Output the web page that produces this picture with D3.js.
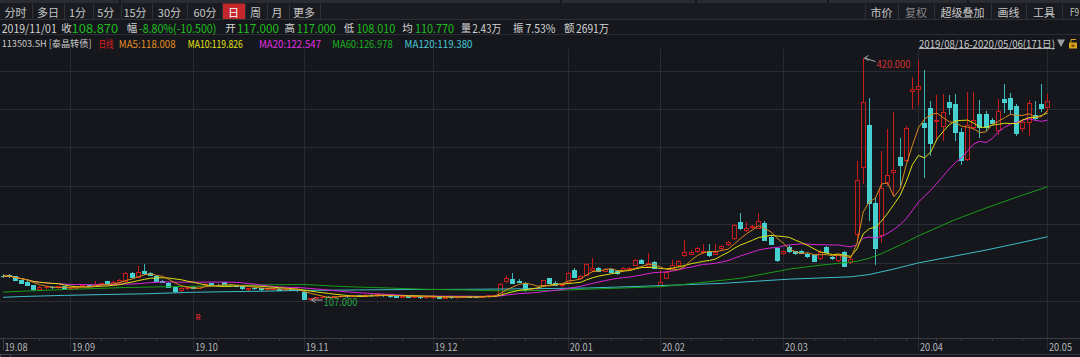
<!DOCTYPE html>
<html>
<head>
<meta charset="utf-8">
<script src="https://cdn.jsdelivr.net/npm/d3@7/dist/d3.min.js"></script>
<style>
html,body{margin:0;padding:0;background:#15171c;overflow:hidden;}
svg{display:block;}
text{font-family:'Noto Sans CJK SC','Noto Sans',sans-serif;}
</style>
</head>
<body>
<svg id="chart" width="1080" height="357"></svg>
<script>
// ---------------- DATA ----------------
const opens=[138.5,139,137.5,132.5,130,126,121,123.5,124,123.2,
125,121.5,123,125,126.5,125.5,127.5,131.5,128,130,
131,142.5,137,145,142,138,132,129.5,124.2,119.5,
122.5,123.5,123,126,128.5,127,130,127,126,125.5,
121,122.5,122,121,121.5,121.5,120.5,121,120.3,117,
108.5,110,111,111.5,111,112,112.5,112.2,113,112.5,
114,113,114,113,112,111.5,111.8,111.2,111.5,110.6,
110.8,111.8,110,111,110.5,111.2,111.8,111.5,111,112,
113.2,113.5,131.5,134.5,131.5,129.5,121,122,126.5,135.5,
129.5,126.5,130.5,146,135,139.5,146,148,145,146.5,
144.5,145.5,147,152.5,158.7,151,156.5,127,136,148.5,
152,165.5,167,170.5,169,171,166.5,174,179,187,
208,197.5,202,200.5,206,189,174.6,167.4,176,170,
171,167,165,160.8,175,162,158.2,169,156.5,192,
279,333,232.8,191,260,272,292,288,377,380.5,
335.5,355,338,332,363,361,324.6,290,331,348,
348,340,327,366.7,368.7,357.8,329,337,346,360.5,356];
const highs=[140,141,138.5,133.5,131,126.5,124.5,125,124.8,125,
125.5,123.5,125.5,126.5,127,131,129,132,132,134,
143,143.5,151,153,143,139,133,130,125,123.5,
124,124.5,125,128.5,129,127.8,130.5,127.5,126.5,126,
123,123.5,122.5,122,122.5,122,121.5,121.5,120.8,117,
110.2,111.5,112,112.5,112,113,113.5,113.5,114,114.5,
114.8,115,114.5,113.5,112.8,112.5,112.3,112,112,111.5,
114,112.2,111.5,112,111.5,112,112.5,112.5,112.5,113.8,
114,128.5,138,142,134,130,123,124,133.5,136,
131,128,143,148,139,155,161.5,150,148,147.5,
145.5,150,149.5,160,160,168,157.5,145.5,144.5,158.7,
158.5,184.6,172,176,180,179.5,179.5,178,183,205,
219,208,203.5,220,209,191,176,172,178,171,
172,168,165.5,172,177,163.5,167,170,161.5,287,
420,368,240,300,328,350,316.5,332,395,417,
404,365,372,374,372,374,330,376,376,366,
352,343,367,387,375,360,338,366,364,387,374];
const lows=[136.5,137,132.5,129,126,120.5,120.5,122.5,122.8,122.5,
121,121,122.5,124.5,124.8,125,126.5,127.5,127.5,129.5,
130.5,136.5,136.5,141,139,131.5,130,124,117.8,118,
121.5,122,122.5,125.5,126.5,126,126.5,125.5,124.5,121.5,
118,121.5,120.5,120.5,121,120,120,119.8,119,108.01,
107,109,110,110.5,110.3,111,111.5,111.8,112,112,
112.5,112.5,112.5,111.5,111,110.5,110.8,110.5,110.2,110,
110,109.5,109.3,110,110,110.5,110.5,110.8,110.5,111.5,
112.5,113,130.5,128.5,130,118.5,120,121,126,128.5,
126,125.5,130,136.5,134.5,139,145,144.5,144,143,
141,145,146,152,154.5,150,148,126,135,148,
151,164,166,169,168,164,166,173,178,186,
199,196,200.5,200,184,179,158,166,169.5,167,
167.5,163,157.5,160,168.5,160,157.5,151,155.5,183,
258,211,153,182,256,243,255.7,287,355,360,
266,295,314,314,348,314,283,288,328,318,
327,334,322,350,348,320,326,320,340,352,352];
const closes=[138,137.8,133,129.5,126.5,121,123.5,124.2,123.2,124.5,
121.5,123,125,126,125.2,127.5,128.5,128,130,133,
142,137,143.5,142,139.8,132,130.5,124.2,118.6,122.5,
123.5,122.8,124.5,128,127,126.5,127,126,125,122,
122.5,122,121,121.5,121.5,120.5,121,120.3,119.37,108.87,
109.8,110.8,111.5,111,111.8,112.5,112.2,113,112.5,114,
113,114.2,113,112,111.5,111.8,111.2,111.5,110.6,111,
111.8,110,111,110.5,111.2,111.5,111,111,112,113.2,
113.5,127.7,135.2,129.5,130.5,119.5,122,123,133,129.3,
126.5,127.5,142,137,138,153.5,148.5,145,147,143.5,
141.5,148.5,148.8,158.7,155,154.5,149,130.5,143.6,152,
157.5,169,169.5,174,171,165,168.5,177,182,204,
200,200,202.2,209,184.6,180,158.7,170.5,170,168,
168.3,164,158,169.4,169,161,166.4,151.4,160,262.6,
363,232.8,174.6,252.5,268.5,274.6,282,329,379.5,383.5,
331,310,340,350,357,324.6,288,333,340,331,
331,336,352,363.6,353.6,323.5,336.7,361.3,343,355,364.7];

// long moving averages (bar index, value)
const ma60Idx=[0,10,20,30,43,49,56,61,69,75,81,90,99,107,111,117,120,128,133,139,141,143,146,149,155,160,165,170];
const ma60Val=[117.3,120.5,123.2,124.6,126.6,127,124.2,123,120.8,120,118.8,119.5,122,124.2,127.3,132.5,135,147,152,157,161,167,178,190,211,226,240,253.5];
const ma120Idx=[0,3,10,16,23,31,37,43,49,58,65,75,85,95,103,110,117,128,138,141,145,149,155,160,165,170];
const ma120Val=[110.5,111.5,113,114,115,117,117.8,118.5,119.4,120,120.5,120.8,121.5,122.5,124.5,126.5,128.5,134,137,140,147,155,164,171.6,180,188.8];

const monthLabels=["19.08","19.09","19.10","19.11","19.12","20.01","20.02","20.03","20.04","20.05"];
const monthStart=[0,11,31,49,70,92,107,127,149,170];
const weekStart=[6,16,20,25,35,40,45,55,60,65,75,80,85,90,94,99,104,112,117,122,132,137,142,147,152,156,161,166];

const toolbarLeft=["分时","多日","1分","5分","15分","30分","60分","日","周","月","更多"];
const toolbarRight=["市价","复权","超级叠加","画线","工具","F9"];
const infoDate="2019/11/01";
const infoLabels=["收","幅","开","高","低","均","量","振","额"];
const infoValues=["108.870","-8.80%(-10.500)","117.000","117.000","108.010","110.770","2.43万","7.53%","2691万"];
const legendCode="113503.SH [泰晶转债]";
const legendPeriod="日线";
const maNames=["MA5","MA10","MA20","MA60","MA120"];
const maValues=["118.008","119.826","122.547","126.978","119.380"];
const rangeText="2019/08/16-2020/05/06(171日)";
const gridValues=[105.7,155.2,204.9,254.6,304.3,354,403.7];

// ---------------- STYLE / LAYOUT ----------------
const W=1080,H=357;
const RED="#c81c1c", CYAN="#46d0d0", CYANW="#38b8b8";
const maColors=["#d88a1c","#dede10","#d824d8","#189c18","#3ebcc8"];
const legColors=["#e08c22","#e4e410","#e030e0","#1eae1e","#48c8d4"];
const svg=d3.select("#chart");

const x=d3.scaleLinear().domain([0,closes.length-1]).range([3,1047.5]);
const y=d3.scaleLinear().domain([107,420]).range([300,58]);

svg.append("rect").attr("width",W).attr("height",H).attr("fill","#15171c");

// top strip & toolbar
svg.append("rect").attr("x",0).attr("y",0).attr("width",W).attr("height",3).attr("fill","#2a2c31");
[119,560,695,827,967].forEach(v=>svg.append("rect").attr("x",v).attr("y",0).attr("width",2).attr("height",3).attr("fill","#15171c"));
svg.append("rect").attr("x",0).attr("y",3).attr("width",W).attr("height",16.5).attr("fill","#191b20");
svg.append("line").attr("x1",0).attr("x2",W).attr("y1",19.5).attr("y2",19.5).attr("stroke","#2d3036");
svg.append("line").attr("x1",0).attr("x2",W).attr("y1",34.5).attr("y2",34.5).attr("stroke","#2a2d33");

const tbCx=[15.5,48,77.5,105.7,135,169.4,205,233.5,255.5,277,304];
const tbSep=[32,63.7,93,120.5,151.5,187,222,245,267,288.6,320];
svg.append("rect").attr("x",222).attr("y",3.5).attr("width",23).attr("height",15.5).attr("fill","#c4262b");
tbSep.forEach(v=>svg.append("line").attr("x1",Math.round(v)+0.5).attr("x2",Math.round(v)+0.5).attr("y1",4).attr("y2",19).attr("stroke","#30333a"));
toolbarLeft.forEach((t,i)=>svg.append("text").attr("x",tbCx[i]).attr("y",11.5).attr("text-anchor","middle")
  .attr("dominant-baseline","central").attr("font-size",11).attr("fill",t==="日"?"#ffffff":"#c6c6c6").text(t));
const tbRCx=[881.5,916,962.5,1008.5,1044,1074.5];
const tbRSep=[865,898,934,991,1026,1062];
tbRSep.forEach(v=>svg.append("line").attr("x1",v+0.5).attr("x2",v+0.5).attr("y1",4).attr("y2",19).attr("stroke","#30333a"));
toolbarRight.forEach((t,i)=>{
  const tx=svg.append("text").attr("x",tbRCx[i]).attr("y",11.5).attr("text-anchor","middle")
    .attr("dominant-baseline","central").attr("font-size",i===5?10:11).attr("fill",t==="复权"?"#85878c":"#c6c6c6").text(t);
  if(i===5) tx.attr("textLength",9).attr("lengthAdjust","spacingAndGlyphs");
});

function seg(str,x0,x1,cy,color,size,fit){
  const t=svg.append("text").attr("x",x0).attr("y",cy).attr("dominant-baseline","central")
    .attr("font-size",size).attr("fill",color).text(str);
  if(fit) t.attr("textLength",x1-x0).attr("lengthAdjust","spacingAndGlyphs");
  return t;
}
// info row
const GREEN="#1fc01f", WHITE="#d4d4d4";
seg(infoDate,1.7,56.8,27.5,WHITE,11.5,true);
const labX=[61.3,126.7,225.2,284.4,343.7,402.2,460.7,513,564];
const valX=[[71.6,118.1],[139.1,216.3],[236.9,278.9],[296.8,335.7],[356.4,395.3],[415,453.9],[472.3,501.4],[525.5,555.5],[576,609]];
const valCol=[GREEN,GREEN,GREEN,GREEN,GREEN,GREEN,WHITE,WHITE,WHITE];
infoLabels.forEach((l,i)=>{
  seg(l,labX[i],labX[i]+10,27.5,WHITE,10.5,false);
  seg(infoValues[i],valX[i][0],valX[i][1],27.5,valCol[i],11.5,true);
});
// legend row
seg(legendCode,1.7,91.5,43,"#c8c8c8",9.2,true);
seg(legendPeriod,98.5,113.6,43,"#e01e1e",10,true);
const legX=[[118.8,175.6],[187.7,242.8],[259,321],[332.3,392.6],[404.6,472.5]];
maNames.forEach((n,i)=>seg(n+":"+maValues[i],legX[i][0],legX[i][1],43,legColors[i],10.5,true));
seg(rangeText,919,1055,43,"#c8c8c8",10.5,true);
svg.append("line").attr("x1",919).attr("x2",1055).attr("y1",48.5).attr("y2",48.5).attr("stroke","#b0b0b0");
svg.append("path").attr("d","M1057,39.5 L1065,39.5 L1061,47 Z").attr("fill","#9a9ca0");
svg.append("rect").attr("x",1069).attr("y",42.5).attr("width",8).attr("height",6).attr("fill","#d9a31a");
svg.append("rect").attr("x",1071.5).attr("y",44.5).attr("width",3).attr("height",2.5).attr("fill","#7a5a08");
svg.append("path").attr("d","M1071,42.5 L1071,39.5 L1076,39.5").attr("fill","none").attr("stroke","#d9a31a");

// grid
const grid=svg.append("g").attr("shape-rendering","crispEdges");
gridValues.forEach(v=>{
  const yy=Math.round(y(v))+0.5;
  grid.append("line").attr("x1",0).attr("x2",W).attr("y1",yy).attr("y2",yy).attr("stroke","#2a2d33");
});
monthStart.forEach((m,k)=>{
  const xx=Math.floor(x(m))+0.5;
  if(k>0) grid.append("line").attr("x1",xx).attr("x2",xx).attr("y1",49).attr("y2",350).attr("stroke","#282b31");
  else grid.append("line").attr("x1",xx).attr("x2",xx).attr("y1",338).attr("y2",350).attr("stroke","#3a3d44");
});
grid.append("line").attr("x1",0).attr("x2",W).attr("y1",338.5).attr("y2",338.5).attr("stroke","#3a3d44");
grid.append("line").attr("x1",0).attr("x2",W).attr("y1",354.5).attr("y2",354.5).attr("stroke","#34373d");
grid.append("rect").attr("x",0.5).attr("y",354.5).attr("width",10).attr("height",4).attr("fill","none").attr("stroke","#44474e");
weekStart.forEach(w=>{
  const xx=Math.floor(x(w))+0.5;
  grid.append("line").attr("x1",xx).attr("x2",xx).attr("y1",338).attr("y2",341).attr("stroke","#3a3d44");
});
monthLabels.forEach((t,k)=>{
  svg.append("text").attr("x",x(monthStart[k])+1.5).attr("y",346).attr("dominant-baseline","central")
    .attr("font-size",10).attr("fill","#b4b6ba").attr("textLength",23).attr("lengthAdjust","spacingAndGlyphs").text(t);
});

// candles
const bars=d3.range(closes.length).map(i=>({i,o:opens[i],h:highs[i],l:lows[i],c:closes[i]}));
const cg=svg.append("g").attr("shape-rendering","crispEdges");
cg.selectAll("g").data(bars).join("g").each(function(d){
  const g=d3.select(this);
  const cx=Math.floor(x(d.i)), wx=cx+0.5;
  const up=d.c>=d.o;
  const yt=Math.round(y(Math.max(d.o,d.c))), yb=Math.round(y(Math.min(d.o,d.c)));
  const yh=Math.round(y(d.h)), yl=Math.round(y(d.l));
  if(up){
    if(yh<yt) g.append("line").attr("x1",wx).attr("x2",wx).attr("y1",yh).attr("y2",yt).attr("stroke",RED);
    if(yl>yb) g.append("line").attr("x1",wx).attr("x2",wx).attr("y1",yb+1).attr("y2",yl+1).attr("stroke",RED);
    if(yb-yt>=1) g.append("rect").attr("x",cx-1.5).attr("y",yt+0.5).attr("width",4).attr("height",yb-yt)
      .attr("fill","none").attr("stroke",RED);
    else g.append("line").attr("x1",cx-2).attr("x2",cx+3).attr("y1",yt+0.5).attr("y2",yt+0.5).attr("stroke",RED);
  }else{
    g.append("line").attr("x1",wx).attr("x2",wx).attr("y1",yh).attr("y2",yl+1).attr("stroke",CYANW);
    g.append("rect").attr("x",cx-2).attr("y",yt).attr("width",5).attr("height",Math.max(1,yb-yt+1)).attr("fill",CYAN);
  }
});

// moving averages
function movAvg(n){return closes.map((c,i)=>[i,d3.mean(closes.slice(Math.max(0,i-n+1),i+1))]);}
const line=d3.line().x(d=>x(d[0])).y(d=>y(d[1]));
const maSeries=[
  ma120Idx.map((v,k)=>[v,ma120Val[k]]),
  ma60Idx.map((v,k)=>[v,ma60Val[k]]),
  movAvg(20),movAvg(10),movAvg(5)];
const maColorOrder=[maColors[4],maColors[3],maColors[2],maColors[1],maColors[0]];
maSeries.forEach((s,k)=>svg.append("path").attr("d",line(s)).attr("fill","none")
  .attr("stroke",maColorOrder[k]).attr("stroke-width",1));

// high / low annotations
const iMax=d3.maxIndex(highs), iMin=d3.minIndex(lows);
function note(i,v,color,dy){
  const ax=Math.floor(x(i))+1.5, ay=y(v);
  svg.append("path").attr("d",`M${ax},${ay} L${ax+11},${ay+dy}`).attr("stroke","#a8aaae").attr("fill","none");
  svg.append("path").attr("d",`M${ax+4},${ay-2.5} L${ax},${ay} L${ax+4},${ay+2.5}`).attr("stroke","#a8aaae").attr("fill","none");
  svg.append("text").attr("x",ax+12).attr("y",ay+dy+1).attr("dominant-baseline","central").attr("font-size",11)
    .attr("fill",color).attr("textLength",34).attr("lengthAdjust","spacingAndGlyphs").text(v.toFixed(3));
}
note(iMax,highs[iMax],"#d23030",3.5);
note(iMin,lows[iMin],"#2aa446",0);

// R marker
svg.append("text").attr("x",x(31)+2).attr("y",316).attr("dominant-baseline","central").attr("font-size",7.5)
  .attr("font-weight","bold").attr("fill","#c8262b").text("R");
</script>
</body>
</html>
